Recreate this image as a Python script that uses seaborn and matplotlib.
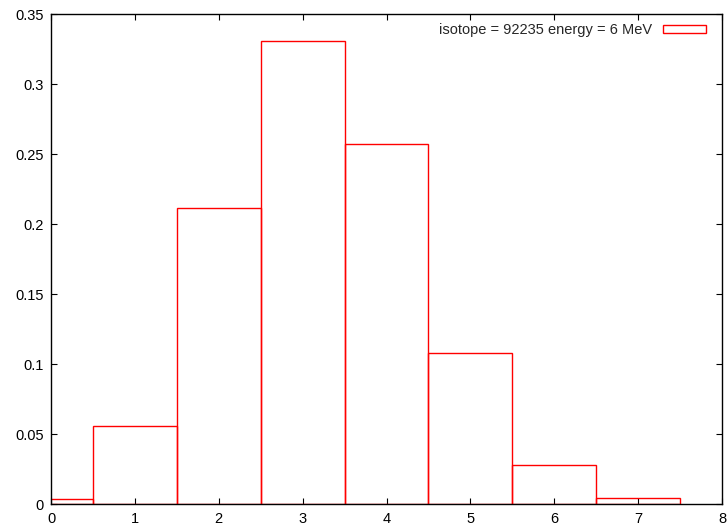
import matplotlib
import numpy as np
import pandas as pd

matplotlib.use("Agg")
import matplotlib.pyplot as plt
import matplotlib.patches as mpatches
import seaborn as sns
from matplotlib.ticker import FuncFormatter


# multiplicity distribution
MULTIPLICITY = [0, 1, 2, 3, 4, 5, 6, 7]
PROBABILITY = [0.0038, 0.0557, 0.2114, 0.3305, 0.2575, 0.1078, 0.0276, 0.0045]
LEGEND_LABEL = "isotope = 92235 energy = 6 MeV"
X_TICKS = [0, 1, 2, 3, 4, 5, 6, 7, 8]
Y_TICKS = [0, 0.05, 0.1, 0.15, 0.2, 0.25, 0.3, 0.35]

FONT_SIZE = 10.5


def setup_style() -> None:
    sns.set_style("ticks")
    plt.rcParams["font.family"] = ["Liberation Sans", "DejaVu Sans"]
    plt.rcParams["font.size"] = FONT_SIZE


def main() -> None:
    setup_style()
    df = pd.DataFrame({"n": MULTIPLICITY, "p": PROBABILITY})

    fig = plt.figure(figsize=(7.27, 5.27), dpi=100)
    ax = fig.add_axes([51 / 727, 1 - 504 / 527, 671 / 727, 490 / 527])

    sns.histplot(
        data=df,
        x="n",
        weights="p",
        discrete=True,
        fill=False,
        color="red",
        linewidth=1.0,
        ax=ax,
    )

    ax.set_xlim(0, 8)
    ax.set_ylim(0, 0.35)
    ax.set_xticks(X_TICKS)
    ax.set_yticks(Y_TICKS)
    ax.yaxis.set_major_formatter(FuncFormatter(lambda v, _: f"{v:g}"))
    ax.set_xlabel("")
    ax.set_ylabel("")
    ax.tick_params(direction="in", top=True, right=True, length=4.5, width=0.8,
                   labelsize=FONT_SIZE, colors="black")
    ax.tick_params(axis="x", pad=5.5)
    ax.tick_params(axis="y", pad=5)
    for spine in ax.spines.values():
        spine.set_visible(True)
        spine.set_color("black")
        spine.set_linewidth(1.0)

    handle = mpatches.Patch(facecolor="none", edgecolor="red", linewidth=1.0)
    ax.legend(
        [handle],
        [LEGEND_LABEL],
        loc="upper right",
        bbox_to_anchor=(0.99, 1.0),
        frameon=False,
        markerfirst=False,
        handlelength=2.95,
        handleheight=0.48,
        handletextpad=0.75,
        fontsize=FONT_SIZE,
        borderaxespad=0.25,
    )

    fig.savefig("out.png", dpi=100)
    plt.close(fig)


if __name__ == "__main__":
    main()
